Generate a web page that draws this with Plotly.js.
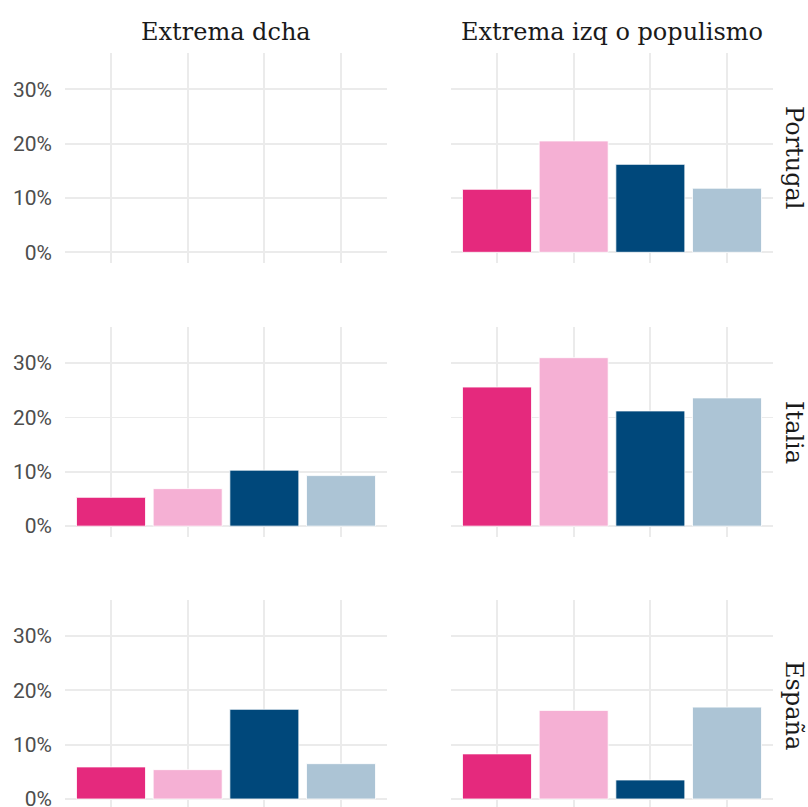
<!DOCTYPE html>
<html><head><meta charset="utf-8">
<script src="https://cdn.plot.ly/plotly-3.0.1.min.js"></script>
<style>html,body{margin:0;padding:0;overflow:hidden;background:#fff}</style>
</head><body><div id="chart" style="width:808px;height:807px"></div>
<script>
const groups = ["G1", "G2", "G3", "G4"];
const colors = ["#e5297d", "#f5b0d4", "#00487b", "#acc4d5"];
const columnLabels = ["Extrema dcha", "Extrema izq o populismo"];
const rowLabels = ["Portugal", "Italia", "España"];
// values in % ; null = no data
const portugalDcha = [null, null, null, null];
const portugalIzq = [11.6, 20.5, 16.2, 11.8];
const italiaDcha = [5.3, 6.9, 10.3, 9.3];
const italiaIzq = [25.6, 31.0, 21.2, 23.6];
const espanaDcha = [5.9, 5.4, 16.5, 6.5];
const espanaIzq = [8.3, 16.3, 3.5, 16.9];
const yTicks = [0, 10, 20, 30];
const yTickText = ["0%", "10%", "20%", "30%"];

const panels = [
  [portugalDcha, portugalIzq],
  [italiaDcha, italiaIzq],
  [espanaDcha, espanaIzq]
];

const W = 808, H = 807;
const xDom = [[65 / W, 387 / W], [451 / W, 773 / W]];
const rowPx = [[53, 263], [327, 537], [600, 807]];
const yRanges = [[-1.97, 36.7], [-2.0, 36.65], [-1.47, 36.6]];
const rowCenters = [158, 432, 705];

const data = [];
const layout = {
  width: W, height: H,
  margin: {l: 0, r: 0, t: 0, b: 0},
  paper_bgcolor: "#ffffff", plot_bgcolor: "#ffffff",
  showlegend: false, bargap: 0.1,
  font: {family: "Roboto, sans-serif", color: "#4d4d4d"},
  annotations: []
};

let idx = 0;
for (let r = 0; r < 3; r++) {
  for (let c = 0; c < 2; c++) {
    idx++;
    const sfx = idx === 1 ? "" : String(idx);
    data.push({
      type: "bar",
      x: groups,
      y: panels[r][c],
      marker: {color: colors, line: {color: "#ffffff", width: 0.8}},
      xaxis: "x" + sfx, yaxis: "y" + sfx,
      hoverinfo: "x+y"
    });
    layout["xaxis" + sfx] = {
      domain: xDom[c], anchor: "y" + sfx,
      type: "category", categoryorder: "array", categoryarray: groups,
      range: [-0.6, 3.6], showticklabels: false, ticks: "",
      showgrid: true, gridcolor: "#ebebeb", gridwidth: 1.8,
      zeroline: false, showline: false, fixedrange: true
    };
    layout["yaxis" + sfx] = {
      domain: [1 - rowPx[r][1] / H, 1 - rowPx[r][0] / H], anchor: "x" + sfx,
      range: yRanges[r], tickvals: yTicks, ticktext: yTickText,
      showticklabels: c === 0, ticks: "", ticklabelstandoff: 12,
      ticklabeloverflow: "allow",
      tickfont: {family: "Roboto, sans-serif", size: 21, color: "#4d4d4d"},
      showgrid: true, gridcolor: "#ebebeb", gridwidth: 1.8,
      zeroline: false, showline: false, fixedrange: true
    };
  }
}

columnLabels.forEach((t, c) => {
  layout.annotations.push({
    text: t, xref: "paper", yref: "paper",
    x: (xDom[c][0] + xDom[c][1]) / 2, y: 1 - 32 / H,
    xanchor: "center", yanchor: "middle", showarrow: false,
    font: {family: "DejaVu Serif, serif", size: 24, color: "#1a1a1a"}
  });
});
rowLabels.forEach((t, r) => {
  layout.annotations.push({
    text: t, xref: "paper", yref: "paper",
    x: 794 / W, y: 1 - rowCenters[r] / H,
    xanchor: "center", yanchor: "middle", showarrow: false, textangle: 90,
    font: {family: "DejaVu Serif, serif", size: 24, color: "#1a1a1a"}
  });
});

Plotly.newPlot("chart", data, layout, {displayModeBar: false, staticPlot: true});
</script></body></html>
